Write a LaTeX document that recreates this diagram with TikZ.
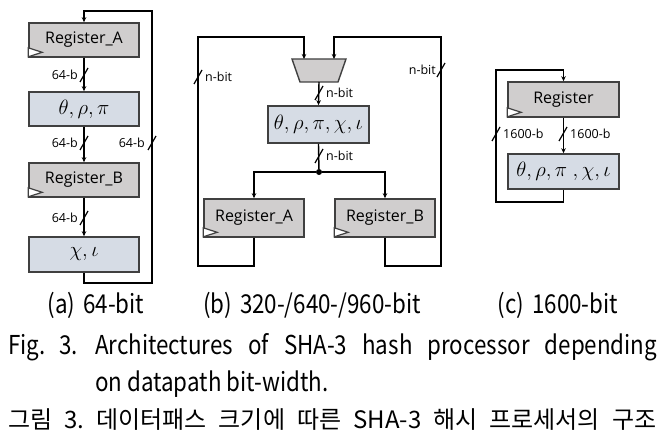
\documentclass[tikz,border=0pt]{standalone}
\usepackage{fontspec}
\setmainfont{Open Sans}
\newfontfamily\capfont[FakeStretch=0.86]{Noto Sans CJK KR}
\newfontfamily\korfont{Noto Sans CJK KR}
\usetikzlibrary{arrows.meta, shapes.geometric, calc}
\definecolor{reggray}{HTML}{D0CECE}
\definecolor{opblue}{HTML}{D6DCE5}
\definecolor{edgegray}{HTML}{404040}
% short slash across a bus wire
\newcommand\busmark[2]{\draw[busline] (#1,#2) ++(-4,7) -- ++(8,-14);}

\begin{document}
\begin{tikzpicture}[
    x=1pt, y=-1pt,
    reg/.style={rectangle, draw=edgegray, line width=1.6pt, fill=reggray,
                inner sep=0, font=\fontsize{16}{19}\selectfont},
    oper/.style={rectangle, draw=edgegray, line width=1.6pt, fill=opblue,
                 inner sep=0, font=\fontsize{21}{25}\selectfont},
    wire/.style={line width=1.4pt, black},
    arrow/.style={wire, -{Stealth[length=5pt,width=4.5pt]}},
    busline/.style={line width=1.2pt, black},
    buslabel/.style={font=\fontsize{12.5}{14}\selectfont, inner sep=0},
    clock/.style={draw=edgegray, line width=1.2pt, fill=white},
    capline/.style={font=\capfont\fontsize{26}{30}\selectfont\frenchspacing, inner sep=0},
    korline/.style={font=\korfont\fontsize{24}{28}\selectfont\frenchspacing, inner sep=0}
]
\useasboundingbox (0,0) rectangle (664,438);

% (a) 64-bit
\node[reg, minimum width=110, minimum height=34] (ra) at (84,40) {Register\_A};
\node[oper, minimum width=110, minimum height=34] (opa) at (84,109) {$\theta,\rho,\pi$};
\node[reg, minimum width=110, minimum height=34] (rb) at (84,180) {Register\_B};
\node[oper, minimum width=110, minimum height=35] (opb) at (84,254.5) {$\chi,\iota$};
\coordinate (abr) at (152,283);
\coordinate (atr) at (152,11);

\draw[arrow] (ra) -- (opa);
\draw[arrow] (opa) -- (rb);
\draw[arrow] (rb) -- (opb);
\draw[arrow] (opb.south) |- (abr) -- (atr) -| (ra.north);

\busmark{84}{75}
\busmark{84}{143}
\busmark{84}{218}
\busmark{152}{143}
\node[buslabel, anchor=east] (la1) at (78,75) {64-b};
\node[buslabel, anchor=east] (la2) at (78,143) {64-b};
\node[buslabel, anchor=east] (la3) at (78,218) {64-b};
\node[buslabel, anchor=east] (la4) at (145,143) {64-b};

% (b) 320-/640-/960-bit
\coordinate (mux-in1) at (304,59);
\coordinate (mux-in2) at (334,59);
\coordinate (mux-out) at (319,82);
\draw[draw=edgegray, line width=1.4pt, fill=reggray]
  (292,59) -- (346,59) -- (338,82) -- (300,82) -- cycle;
\node[oper, minimum width=101, minimum height=37] (opc) at (318.5,124.5) {$\theta,\rho,\pi,\chi,\iota$};
\node[circle, fill=black, inner sep=0, minimum size=6] (jn) at (319,172) {};
\node[reg, minimum width=100, minimum height=38] (rba) at (254,218) {Register\_A};
\node[reg, minimum width=100, minimum height=38] (rbb) at (385,218) {Register\_B};
\coordinate (bbl) at (198,266);
\coordinate (btl) at (198,37);
\coordinate (bbr) at (441,266);
\coordinate (btr) at (441,37);

\draw[arrow] (mux-out) -- (opc.north);
\draw[wire] (opc.south) -- (jn);
\draw[arrow] (jn) -| (rba.north);
\draw[arrow] (jn) -| (rbb.north);
\draw[arrow] (rba.south) |- (bbl) -- (btl) -| (mux-in1);
\draw[arrow] (rbb.south) |- (bbr) -- (btr) -| (mux-in2);

\busmark{198}{77}
\busmark{441}{70}
\busmark{319}{93}
\busmark{319}{156}
\node[buslabel, anchor=west] (lb1) at (205,77) {n-bit};
\node[buslabel, anchor=east] (lb2) at (436,70) {n-bit};
\node[buslabel, anchor=west] (lb3) at (326,93) {n-bit};
\node[buslabel, anchor=west] (lb4) at (326,156) {n-bit};

% (c) 1600-bit
\node[reg, minimum width=111, minimum height=35] (rc) at (563.5,99.5) {Register};
\node[oper, minimum width=111, minimum height=35] (opd) at (563.5,171.5) {$\theta,\rho,\pi\ ,\chi,\iota$};
\coordinate (cbl) at (496,202);
\coordinate (ctl) at (496,70);

\draw[arrow] (rc) -- (opd);
\draw[arrow] (opd.south) |- (cbl) -- (ctl) -| (rc.north);

\busmark{496}{134}
\busmark{563}{134}
\node[buslabel, anchor=west] (lc1) at (503,134) {1600-b};
\node[buslabel, anchor=west] (lc2) at (570,134) {1600-b};

% clock inputs
\foreach \r in {ra, rb, rba, rbb, rc}
  \draw[clock] ($(\r.south west)+(0,-1)$) -- ++(14,-4.5) -- ++(-14,-4.5) -- cycle;

% captions
\node[capline, anchor=base] (cap-a) at (96,314) {(a)\hspace{8pt}64-bit};
\node[capline, anchor=base] (cap-b) at (312,314) {(b)\hspace{8pt}320-/640-/960-bit};
\node[capline, anchor=base] (cap-c) at (558,314) {(c)\hspace{8pt}1600-bit};
\node[capline, anchor=base west] (fig-no) at (8,354) {Fig.\hspace{14pt}3.};
\node[capline, anchor=base west] (fig-l1) at (95,354)
  {\makebox[562pt][s]{Architectures of SHA-3 hash processor depending}};
\node[capline, anchor=base west] (fig-l2) at (95,391) {on datapath bit-width.};
\node[korline, anchor=base west] (fig-kr) at (8,428)
  {\makebox[648pt][s]{그림 3. 데이터패스 크기에 따른 SHA-3 해시 프로세서의 구조}};

\end{tikzpicture}
\end{document}
